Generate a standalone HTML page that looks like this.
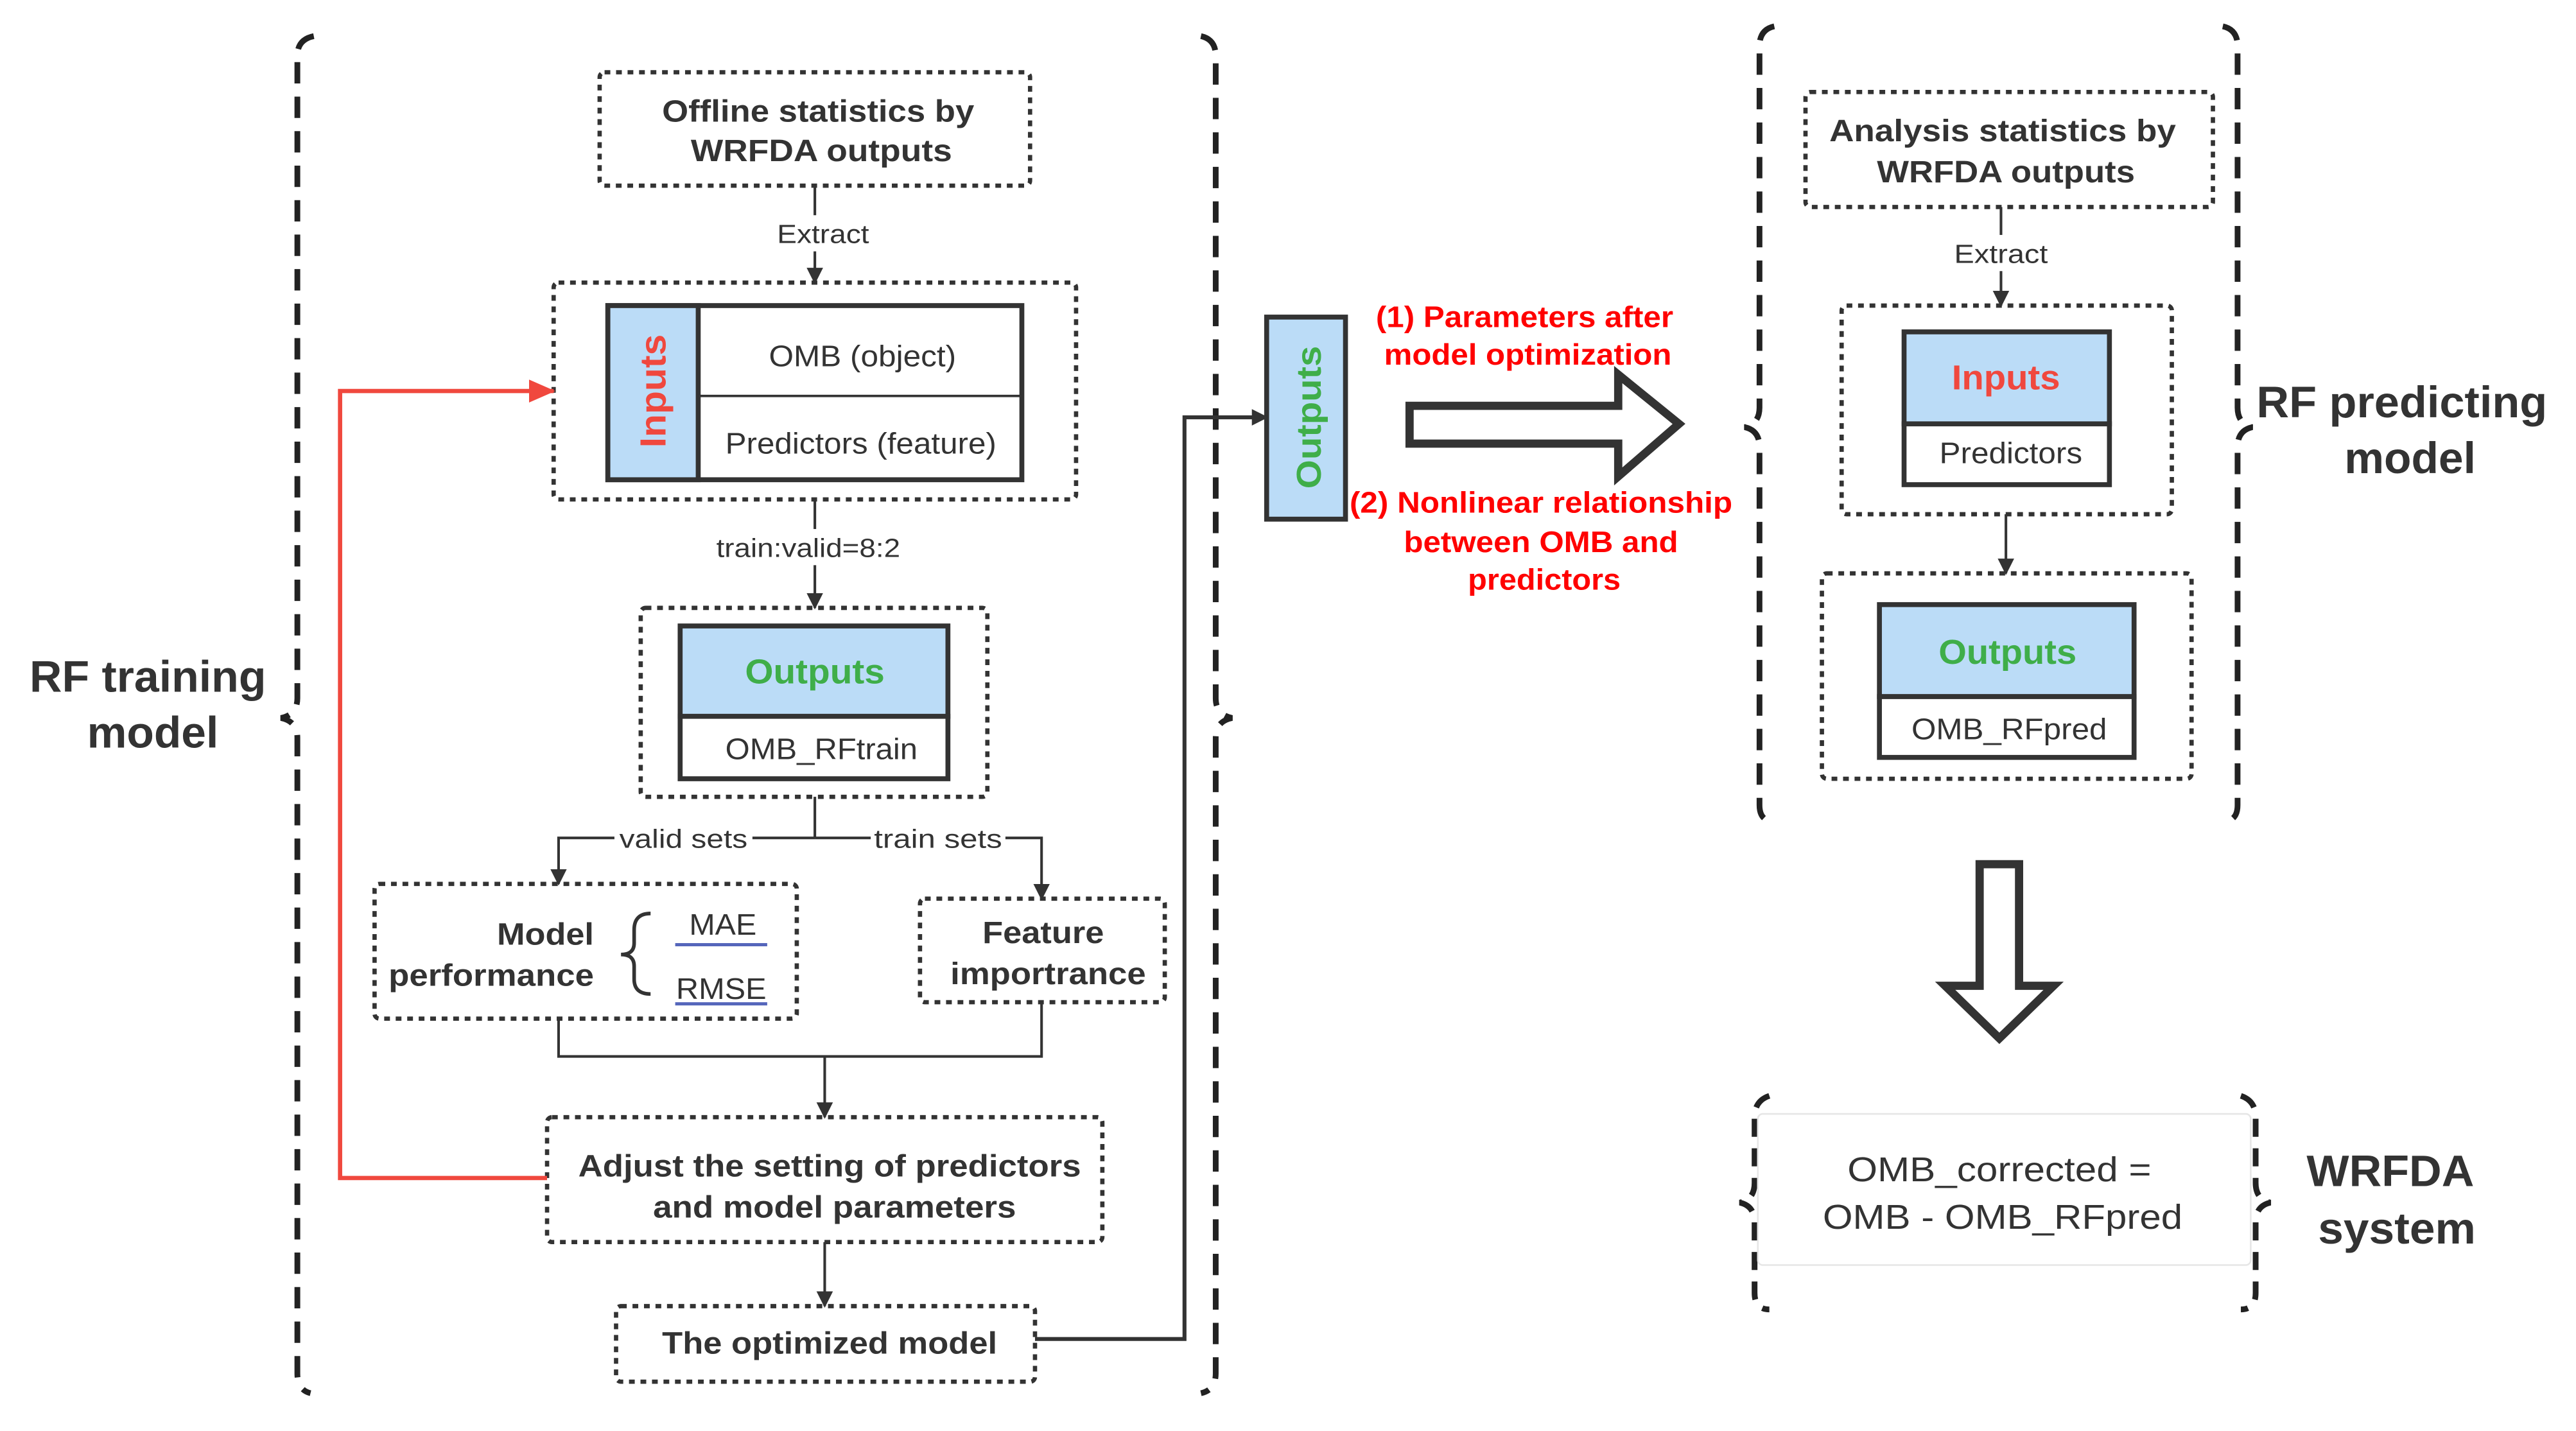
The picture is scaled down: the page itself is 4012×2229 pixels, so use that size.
<!DOCTYPE html>
<html><head><meta charset="utf-8"><style>
html,body{margin:0;padding:0;background:#fff;}
svg{display:block;}
text{font-family:"Liberation Sans",sans-serif;fill:#333;}
.b{font-weight:bold;}
</style></head><body>
<svg width="4012" height="2229" viewBox="0 0 1568 871" preserveAspectRatio="none" xmlns="http://www.w3.org/2000/svg">
<defs>
<marker id="ah" markerWidth="10" markerHeight="10" refX="9" refY="5" orient="auto" markerUnits="userSpaceOnUse"><path d="M0,0 L10,5 L0,10 Z" fill="#333"/></marker>
<marker id="ar" markerWidth="16" markerHeight="14" refX="15" refY="7" orient="auto" markerUnits="userSpaceOnUse"><path d="M0,0 L16,7 L0,14 Z" fill="#f0483e"/></marker>
</defs>
<g fill="none" stroke="#222" stroke-width="3.5" stroke-dasharray="13 8">
<path d="M191 22 Q181 24 181 34 L181 425 Q181 435 171 437 Q181 439 181 449 L181 836 Q181 846 189 848"/>
<path d="M731 22 Q740 24 740 34 L740 425 Q740 435 750 437 Q740 439 740 449 L740 836 Q740 846 731 848"/>
<path d="M1080 16 Q1071 18 1071 28 L1071 248 Q1071 258 1062 260 Q1071 262 1071 272 L1071 490 Q1071 500 1080 500"/>
<path d="M1353 16 Q1362 18 1362 28 L1362 248 Q1362 258 1371 260 Q1362 262 1362 272 L1362 490 Q1362 500 1353 500"/>
</g>
<g fill="none" stroke="#222" stroke-width="3.5" stroke-dasharray="11 7">
<path d="M1077 667 Q1068 670 1068 680 L1068 720 Q1068 730 1059 732 Q1068 734 1068 744 L1068 787 Q1068 797 1077 797"/>
<path d="M1364 667 Q1373 670 1373 680 L1373 720 Q1373 730 1382 732 Q1373 734 1373 744 L1373 787 Q1373 797 1364 797"/>
</g>
<rect x="1070" y="678" width="300" height="92" rx="3" fill="#fff" stroke="#e6e6e6" stroke-width="1"/>

<g fill="none" stroke="#333" stroke-width="2.6" stroke-dasharray="3.5 3.5">
<rect x="365" y="44" width="262" height="69" rx="3"/>
<rect x="337" y="172" width="318" height="132" rx="3"/>
<rect x="390" y="370" width="211" height="115" rx="3"/>
<rect x="228" y="538" width="257" height="82" rx="3"/>
<rect x="560" y="547" width="149" height="63" rx="3"/>
<rect x="333" y="680" width="338" height="76" rx="3"/>
<rect x="375" y="795" width="255" height="46" rx="3"/>
<rect x="1099" y="56" width="248" height="70" rx="3"/>
<rect x="1121" y="186" width="201" height="127" rx="3"/>
<rect x="1109" y="349" width="225" height="125" rx="3"/>
</g>

<g stroke="#333" stroke-width="3">
<rect x="370" y="186" width="252" height="106" fill="#fff"/>
<rect x="370" y="186" width="55" height="106" fill="#bbdcf7"/>
<line x1="425" y1="241" x2="622" y2="241" stroke-width="1.5"/>
<rect x="414" y="381" width="163" height="55" fill="#bbdcf7"/>
<rect x="414" y="436" width="163" height="38" fill="#fff"/>
<rect x="771" y="193" width="48" height="123" fill="#bbdcf7"/>
<rect x="1159" y="202" width="125" height="56" fill="#bbdcf7"/>
<rect x="1159" y="258" width="125" height="37" fill="#fff"/>
<rect x="1144" y="368" width="155" height="56" fill="#bbdcf7"/>
<rect x="1144" y="424" width="155" height="37" fill="#fff"/>
</g>

<g fill="none" stroke="#333" stroke-width="1.6">
<line x1="496" y1="113" x2="496" y2="172" marker-end="url(#ah)"/>
<line x1="496" y1="304" x2="496" y2="370" marker-end="url(#ah)"/>
<line x1="496" y1="485" x2="496" y2="510"/>
<path d="M496 510 L340 510 L340 538" marker-end="url(#ah)"/>
<path d="M496 510 L634 510 L634 547" marker-end="url(#ah)"/>
<path d="M340 620 L340 643 L634 643 L634 610"/>
<line x1="502" y1="643" x2="502" y2="680" marker-end="url(#ah)"/>
<line x1="502" y1="756" x2="502" y2="795" marker-end="url(#ah)"/>
<path d="M630 815 L721 815 L721 254 L771 254" stroke-width="2.4" marker-end="url(#ah)"/>
<line x1="1218" y1="126" x2="1218" y2="186" marker-end="url(#ah)"/>
<line x1="1221" y1="313" x2="1221" y2="349" marker-end="url(#ah)"/>
</g>
<path d="M333 717 L207 717 L207 238 L337 238" fill="none" stroke="#f0483e" stroke-width="2.6" marker-end="url(#ar)"/>

<path d="M858 247 L985 247 L985 228 L1022 258 L985 290 L985 270 L858 270 Z" fill="#fff" stroke="#333" stroke-width="5"/>
<path d="M1205 526 L1229 526 L1229 600 L1250 600 L1217 632 L1184 600 L1205 600 Z" fill="#fff" stroke="#333" stroke-width="5"/>

<path d="M396 556 Q386 556 386 566 L386 574 Q386 581 378 581 Q386 581 386 588 L386 596 Q386 605 396 605" fill="none" stroke="#333" stroke-width="2.2"/>
<line x1="411" y1="575" x2="467" y2="575" stroke="#5566bb" stroke-width="2"/>
<line x1="411" y1="611" x2="467" y2="611" stroke="#5566bb" stroke-width="2"/>

<g fill="#fff">
<rect x="470" y="131" width="60" height="22"/>
<rect x="434" y="322" width="116" height="22"/>
<rect x="374" y="500" width="84" height="22"/>
<rect x="530" y="500" width="82" height="22"/>
<rect x="1187" y="143" width="62" height="22"/>
</g>

<g text-anchor="middle">
<text class="b" x="90" y="421" font-size="27" textLength="144" lengthAdjust="spacingAndGlyphs">RF training</text>
<text class="b" x="93" y="455" font-size="27" textLength="80" lengthAdjust="spacingAndGlyphs">model</text>
<text class="b" x="498" y="74" font-size="19" textLength="190" lengthAdjust="spacingAndGlyphs">Offline statistics by</text>
<text class="b" x="500" y="98" font-size="19" textLength="159" lengthAdjust="spacingAndGlyphs">WRFDA outputs</text>
<text x="501" y="148" font-size="16" textLength="56" lengthAdjust="spacingAndGlyphs">Extract</text>
<text x="525" y="223" font-size="18" textLength="114" lengthAdjust="spacingAndGlyphs">OMB (object)</text>
<text x="524" y="276" font-size="18" textLength="165" lengthAdjust="spacingAndGlyphs">Predictors (feature)</text>
<text class="b" transform="translate(405,238) rotate(-90)" x="0" y="0" font-size="22" style="fill:#f0483e" textLength="69" lengthAdjust="spacingAndGlyphs">Inputs</text>
<text x="492" y="339" font-size="16" textLength="112" lengthAdjust="spacingAndGlyphs">train:valid=8:2</text>
<text class="b" x="496" y="416" font-size="21" style="fill:#3fae49" textLength="85" lengthAdjust="spacingAndGlyphs">Outputs</text>
<text x="500" y="462" font-size="18" textLength="117" lengthAdjust="spacingAndGlyphs">OMB_RFtrain</text>
<text x="416" y="516" font-size="16" textLength="78" lengthAdjust="spacingAndGlyphs">valid sets</text>
<text x="571" y="516" font-size="16" textLength="78" lengthAdjust="spacingAndGlyphs">train sets</text>
<text class="b" x="332" y="575" font-size="19" textLength="59" lengthAdjust="spacingAndGlyphs">Model</text>
<text class="b" x="299" y="600" font-size="19" textLength="125" lengthAdjust="spacingAndGlyphs">performance</text>
<text x="440" y="569" font-size="18" textLength="41" lengthAdjust="spacingAndGlyphs">MAE</text>
<text x="439" y="608" font-size="18" textLength="55" lengthAdjust="spacingAndGlyphs">RMSE</text>
<text class="b" x="635" y="574" font-size="19" textLength="74" lengthAdjust="spacingAndGlyphs">Feature</text>
<text class="b" x="638" y="599" font-size="19" textLength="119" lengthAdjust="spacingAndGlyphs">importrance</text>
<text class="b" x="505" y="716" font-size="19" textLength="306" lengthAdjust="spacingAndGlyphs">Adjust the setting of predictors</text>
<text class="b" x="508" y="741" font-size="19" textLength="221" lengthAdjust="spacingAndGlyphs">and model parameters</text>
<text class="b" x="505" y="824" font-size="19" textLength="204" lengthAdjust="spacingAndGlyphs">The optimized model</text>
<text class="b" transform="translate(804,254) rotate(-90)" x="0" y="0" font-size="21" style="fill:#3fae49" textLength="87" lengthAdjust="spacingAndGlyphs">Outputs</text>
<text class="b" x="928" y="199" font-size="18" style="fill:#f00" textLength="181" lengthAdjust="spacingAndGlyphs">(1) Parameters after</text>
<text class="b" x="930" y="222" font-size="18" style="fill:#f00" textLength="175" lengthAdjust="spacingAndGlyphs">model optimization</text>
<text class="b" x="938" y="312" font-size="18" style="fill:#f00" textLength="233" lengthAdjust="spacingAndGlyphs">(2) Nonlinear relationship</text>
<text class="b" x="938" y="336" font-size="18" style="fill:#f00" textLength="167" lengthAdjust="spacingAndGlyphs">between OMB and</text>
<text class="b" x="940" y="359" font-size="18" style="fill:#f00" textLength="93" lengthAdjust="spacingAndGlyphs">predictors</text>
<text class="b" x="1219" y="86" font-size="19" textLength="211" lengthAdjust="spacingAndGlyphs">Analysis statistics by</text>
<text class="b" x="1221" y="111" font-size="19" textLength="157" lengthAdjust="spacingAndGlyphs">WRFDA outputs</text>
<text x="1218" y="160" font-size="16" textLength="57" lengthAdjust="spacingAndGlyphs">Extract</text>
<text class="b" x="1221" y="237" font-size="21" style="fill:#f0483e" textLength="66" lengthAdjust="spacingAndGlyphs">Inputs</text>
<text x="1224" y="282" font-size="18" textLength="87" lengthAdjust="spacingAndGlyphs">Predictors</text>
<text class="b" x="1222" y="404" font-size="21" style="fill:#3fae49" textLength="84" lengthAdjust="spacingAndGlyphs">Outputs</text>
<text x="1223" y="450" font-size="18" textLength="119" lengthAdjust="spacingAndGlyphs">OMB_RFpred</text>
<text class="b" x="1462" y="254" font-size="27" textLength="177" lengthAdjust="spacingAndGlyphs">RF predicting</text>
<text class="b" x="1467" y="288" font-size="27" textLength="80" lengthAdjust="spacingAndGlyphs">model</text>
<text x="1217" y="719" font-size="21" textLength="185" lengthAdjust="spacingAndGlyphs">OMB_corrected =</text>
<text x="1219" y="748" font-size="21" textLength="219" lengthAdjust="spacingAndGlyphs">OMB - OMB_RFpred</text>
<text class="b" x="1455" y="722" font-size="27" textLength="102" lengthAdjust="spacingAndGlyphs">WRFDA</text>
<text class="b" x="1459" y="757" font-size="27" textLength="96" lengthAdjust="spacingAndGlyphs">system</text>
</g>
</svg>
</body></html>
